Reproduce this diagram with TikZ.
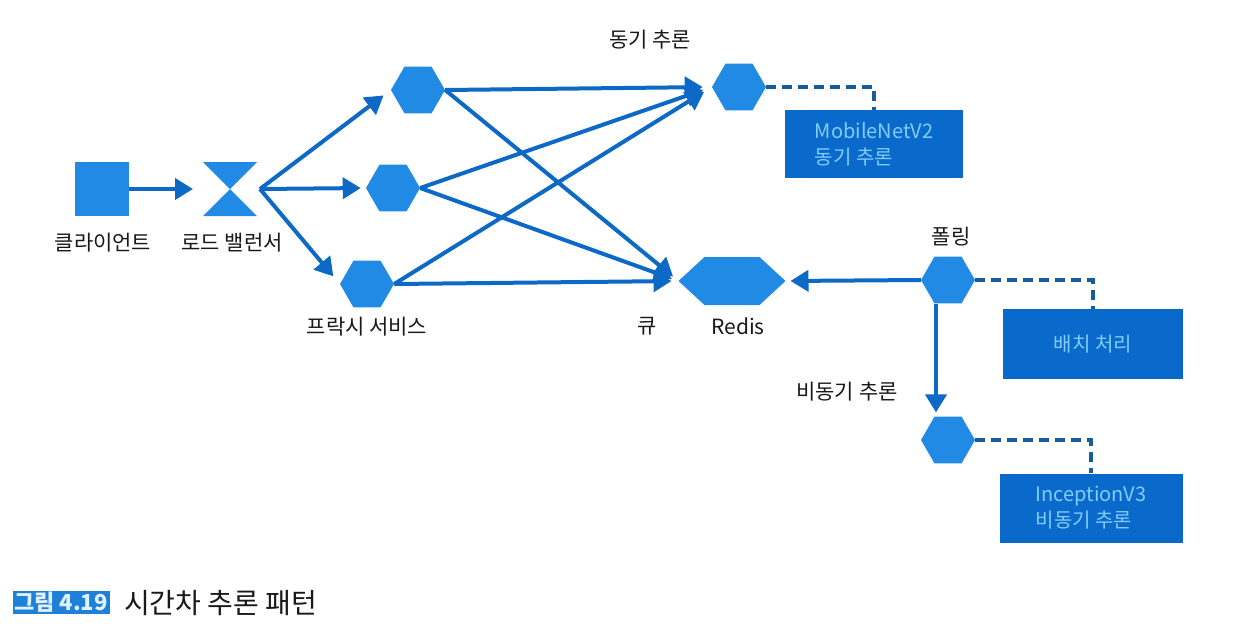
\documentclass[tikz,border=0pt]{standalone}
\usepackage{fontspec}
\setmainfont{Noto Sans CJK KR}
\usetikzlibrary{arrows.meta,shapes.geometric}
\definecolor{hexblue}{RGB}{32,138,228}
\definecolor{lineblue}{RGB}{12,106,198}
\definecolor{boxblue}{RGB}{10,106,204}
\definecolor{boxtext}{RGB}{130,205,248}
\definecolor{dashblue}{RGB}{24,92,160}
\definecolor{capblue}{RGB}{30,128,216}
\definecolor{captext}{RGB}{225,242,255}
\definecolor{txt}{RGB}{25,25,25}
\begin{document}
\begin{tikzpicture}[x=1pt,y=-1pt,
  hexa/.style={regular polygon, regular polygon sides=6, minimum size=54pt, inner sep=0pt, fill=hexblue, draw=none},
  ghost/.style={draw=none, inner sep=0pt, outer sep=0pt},
  boxst/.style={fill=boxblue, text=boxtext, inner sep=0pt, align=left, font=\fontsize{20}{26}\selectfont},
  lbl/.style={text=txt, inner sep=0pt, font=\fontsize{21}{24}\selectfont},
  conn/.style={draw=lineblue, line width=4pt, -{Triangle[length=18pt,width=21pt]}},
  dashst/.style={draw=dashblue, line width=4pt, dash pattern=on 10pt off 6pt}]
\useasboundingbox (0,0) rectangle (1236,630);
\fill[white] (0,0) rectangle (1236,630);

% client and load balancer
\node[ghost, fill=hexblue, minimum width=54pt, minimum height=54pt] (client) at (102,189) {};
\node[ghost, minimum width=54pt, minimum height=54pt] (lb) at (230,189) {};
\fill[hexblue] (lb.north west) -- (lb.north east) -- (lb.center) -- cycle;
\fill[hexblue] (lb.south west) -- (lb.south east) -- (lb.center) -- cycle;
\coordinate (lbo) at (260,189);
\node[lbl] (lclient) at (103,243) {클라이언트};
\node[lbl] (llb) at (232,243) {로드 밸런서};

% proxies
\node[hexa] (p1) at (418,90) {};
\node[hexa] (p2) at (393,188) {};
\node[hexa] (p3) at (367,284) {};
\node[lbl] (lproxy) at (367,327) {프락시 서비스};

% sync
\node[hexa] (sync) at (739,87) {};
\node[lbl] (lsync) at (650,40) {동기 추론};
\node[boxst, minimum width=178pt, minimum height=68pt] (mbox) at (874,144) {MobileNetV2\\동기 추론};

% redis queue
\node[ghost, minimum width=107pt, minimum height=48pt] (redis) at (732,281) {};
\fill[hexblue] (redis.west) -- ([xshift=26pt]redis.north west) -- ([xshift=-26pt]redis.north east) -- (redis.east) -- ([xshift=-26pt]redis.south east) -- ([xshift=26pt]redis.south west) -- cycle;
\node[lbl] (lq) at (647,326) {큐};
\node[lbl] (lredis) at (738,326) {Redis};

% polling
\node[hexa] (poll) at (948,280) {};
\node[lbl] (lpoll) at (951,237) {폴링};
\node[boxst, minimum width=180pt, minimum height=70pt] (bbox) at (1093,344) {배치 처리};

% async
\node[hexa] (async) at (948,440) {};
\node[lbl] (lasync) at (847,392) {비동기 추론};
\node[boxst, minimum width=183pt, minimum height=69pt] (ibox) at (1091,508) {InceptionV3\\비동기 추론};

% connectors
\draw[conn, shorten >=10pt] (client.east) -- (lb.west);
\draw[conn, shorten >=9pt] (lbo) -- (p1.west);
\draw[conn, shorten >=5pt] (lbo) -- (p2.west);
\draw[conn, shorten >=10pt] (lbo) -- (p3.west);

\draw[conn, shorten >=9pt] (p1.east) -- (sync.west);
\draw[conn, shorten >=9pt] (p2.east) -- (sync.west);
\draw[conn, shorten >=9pt] (p3.east) -- (sync.west);
\draw[conn, shorten >=7pt] (p1.east) -- (redis.west);
\draw[conn, shorten >=7pt] (p2.east) -- (redis.west);
\draw[conn, shorten >=7pt] (p3.east) -- (redis.west);

\draw[conn, shorten >=5pt] (poll.west) -- (redis.east);
\draw[conn, shorten >=4pt] ([xshift=-12pt]poll.south) -- ([xshift=-12pt]async.north);

\draw[dashst] (sync.east) -| (mbox.north);
\draw[dashst] (poll.east) -| (bbox.north);
\draw[dashst] (async.east) -| (ibox.north);

% caption
\node[fill=capblue, text=captext, inner sep=0pt, minimum width=97pt, minimum height=23pt, font=\bfseries\fontsize{22}{24}\selectfont] (fig) at (61,602) {그림 4.19};
\node[lbl, anchor=west, font=\fontsize{28}{32}\selectfont] (cap) at (124,603) {시간차 추론 패턴};
\end{tikzpicture}
\end{document}
